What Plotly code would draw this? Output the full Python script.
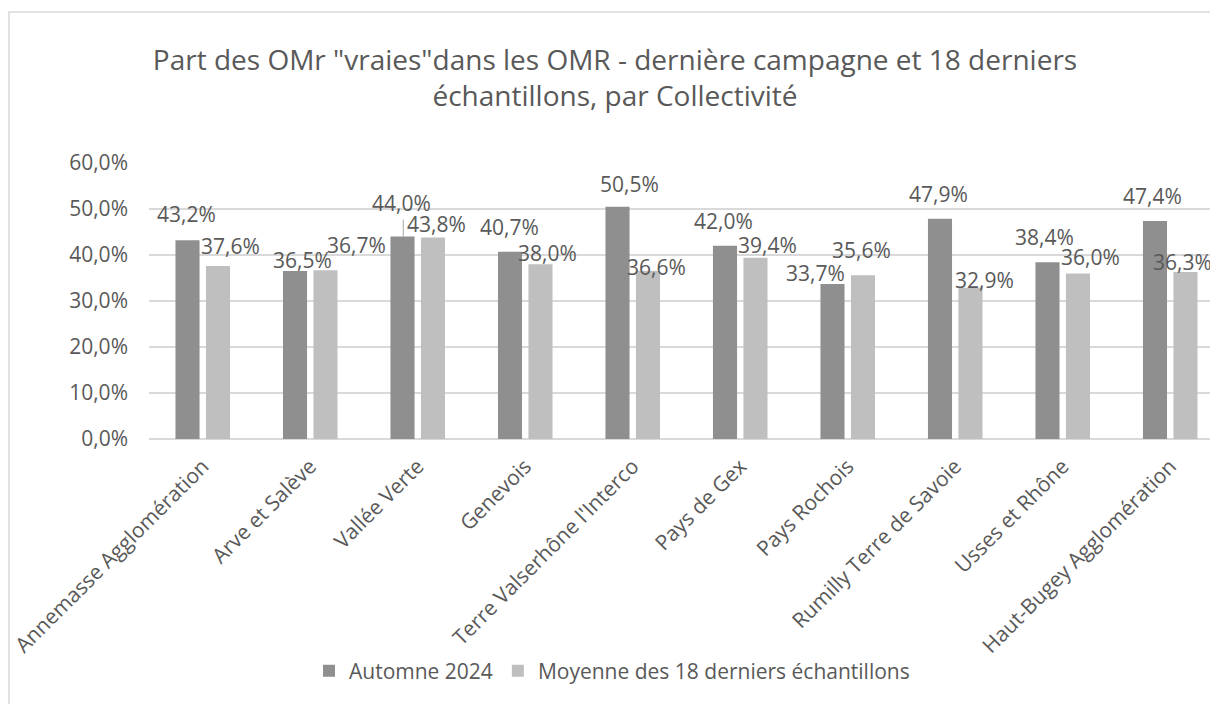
import plotly.graph_objects as go

categories = ["Annemasse Agglomération", "Arve et Salève", "Vallée Verte", "Genevois",
              "Terre Valserhône l'Interco", "Pays de Gex", "Pays Rochois",
              "Rumilly Terre de Savoie", "Usses et Rhône", "Haut-Bugey Agglomération"]
automne_2024 = [43.2, 36.5, 44.0, 40.7, 50.5, 42.0, 33.7, 47.9, 38.4, 47.4]
moyenne_18 = [37.6, 36.7, 43.8, 38.0, 36.6, 39.4, 35.6, 32.9, 36.0, 36.3]
series_names = ["Automne 2024", "Moyenne des 18 derniers échantillons"]
y_ticks = [0, 10, 20, 30, 40, 50, 60]

# label offsets (pixels) relative to category centre / bar top
dark_dx = [-16, -8, -16, -16, -3, -17, -32, -17, -18, -18]
dark_dy = [26, 11, 34, 25, 23, 25, 11, 25, 25, 25]
light_dx = [28, 46, 19, 22, 24, 27, 14, 29, 28, 12]
light_dy = [20, 25, 14, 11, 4, 13, 25, 8, 16, 10]

DARK = "#8f8f8f"
LIGHT = "#bfbfbf"
TXT = "#595959"
GRID = "#d9d9d9"
FONT = "Open Sans"


def fmt(v):
    return f"{v:.1f}".replace(".", ",") + "%"


fig = go.Figure()
fig.add_trace(go.Bar(x=categories, y=automne_2024, name=series_names[0],
                     marker=dict(color=DARK, line=dict(width=0)), hoverinfo="skip"))
fig.add_trace(go.Bar(x=categories, y=moyenne_18, name=series_names[1],
                     marker=dict(color=LIGHT, line=dict(width=0)), hoverinfo="skip"))

annotations = []
for i, c in enumerate(categories):
    annotations.append(dict(x=c, y=automne_2024[i], xref="x", yref="y", text=fmt(automne_2024[i]),
                            showarrow=False, xshift=dark_dx[i], yshift=dark_dy[i],
                            font=dict(family=FONT, size=21, color=TXT),
                            xanchor="center", yanchor="middle"))
    annotations.append(dict(x=c, y=moyenne_18[i], xref="x", yref="y", text=fmt(moyenne_18[i]),
                            showarrow=False, xshift=light_dx[i], yshift=light_dy[i],
                            font=dict(family=FONT, size=21, color=TXT),
                            xanchor="center", yanchor="middle"))

shapes = [
    # outer chart border
    dict(type="rect", xref="paper", yref="paper", x0=-0.132, x1=1.2, y0=-1.2, y1=1.547,
         line=dict(color="#d9d9d9", width=1.5), fillcolor="rgba(0,0,0,0)", layer="below"),
    # leader line for the 44,0% label
    dict(type="line", xref="x", yref="y", x0=1.865, x1=1.865,
         y0=automne_2024[2], y1=automne_2024[2] + 3.7,
         line=dict(color="#a6a6a6", width=1)),
]

fig.update_layout(
    width=1210, height=704,
    margin=dict(l=149, r=0, t=163, b=265, autoexpand=False),
    paper_bgcolor="white", plot_bgcolor="white",
    separators=", ",
    barmode="group", bargap=0.433, bargroupgap=0.21,
    font=dict(family=FONT, color=TXT),
    title=dict(text='Part des OMr "vraies"dans les OMR - dernière campagne et 18 derniers<br>échantillons, par Collectivité',
               x=615 / 1210, xanchor="center", xref="container",
               y=1 - 70 / 704, yanchor="top", yref="container",
               font=dict(family=FONT, size=28, color=TXT)),
    xaxis=dict(range=[-0.5, 9.37], tickangle=-45, showgrid=False, showline=False,
               ticks="", tickfont=dict(family=FONT, size=21, color=TXT), fixedrange=True,
               ticklabelstandoff=10),
    yaxis=dict(range=[0, 60], tickvals=y_ticks, ticktext=[fmt(v) for v in y_ticks],
               showgrid=True, gridcolor=GRID, gridwidth=1.5, zeroline=True,
               zerolinecolor=GRID, zerolinewidth=1.5, showline=False, ticks="",
               tickfont=dict(family=FONT, size=21, color=TXT), ticklabelstandoff=20,
               fixedrange=True),
    legend=dict(orientation="h", xref="container", yref="container",
                x=612 / 1210, xanchor="center", y=1 - 671 / 704, yanchor="middle",
                font=dict(family=FONT, size=21, color=TXT), itemwidth=30,
                traceorder="normal"),
    annotations=annotations,
    shapes=shapes,
    showlegend=True,
)

fig.write_html("out.html", config={"displayModeBar": False, "staticPlot": True},
               post_script="document.body.style.margin='0px';document.body.style.overflow='hidden';")
